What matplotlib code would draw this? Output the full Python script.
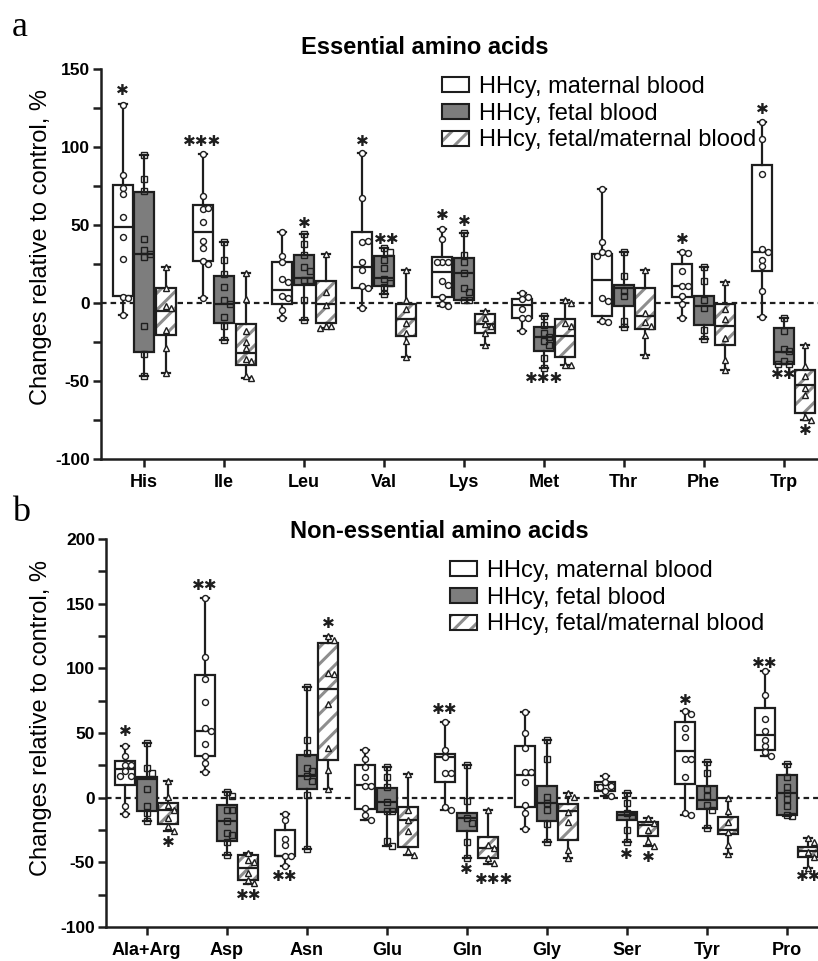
import matplotlib
matplotlib.use('Agg')
import matplotlib.pyplot as plt
from matplotlib.patches import Patch
from matplotlib.ticker import MultipleLocator
import numpy as np

plt.rcParams['font.family'] = ['Liberation Sans', 'DejaVu Sans']
plt.rcParams['hatch.linewidth'] = 2.2
plt.rcParams['axes.unicode_minus'] = False

group_labels = ['HHcy, maternal blood', 'HHcy, fetal blood', 'HHcy, fetal/maternal blood']

# ---- panel a: essential amino acids ----
# box rows: [min, q1, median, q3, max]
ess_names = ['His', 'Ile', 'Leu', 'Val', 'Lys', 'Met', 'Thr', 'Phe', 'Trp']
ess_mat_box = [[-7.5, 4.3, 48.6, 75.6, 127.4], [3, 27.2, 45.6, 62.5, 95.7], [-9.6, -0.6, 8.6, 26.3, 45.6],
               [-3, 9.6, 23.1, 45.6, 96], [-1.7, 3.6, 19.9, 29.5, 47.7], [-18.2, -9.6, -1, 2.6, 6.4],
               [-12.2, -8.6, 14.6, 31.7, 73.2], [-9.6, 3.6, 11.1, 25, 32.5], [-9.2, 20.8, 32.8, 88.2, 116.3]]
ess_fet_box = [[-46.7, -31.5, 31.5, 71.3, 94.8], [-23.5, -12.8, -0.6, 17.6, 39], [-11.1, 11.8, 16, 31, 44],
               [6, 10.7, 16, 30.4, 35.3], [1.7, 1.7, 19.3, 28.9, 45], [-41.7, -31, -21.8, -15.6, -8.1],
               [-15.6, -1.7, 9.6, 11.3, 32.8], [-23.1, -14.3, -1.7, 4.3, 23.1], [-39, -39, -31.5, -16, -9.6]]
ess_rat_box = [[-45, -20.6, -5.4, 9.4, 23.1], [-48.2, -40, -32, -13.3, 19.3], [-16, -12.6, -0.6, 13.9, 31.7],
               [-34.3, -21.4, -10.3, -0.6, 21], [-26.8, -19.3, -13.5, -6.9, -5.4], [-39.6, -34.3, -21.4, -10, 1.7],
               [-33.6, -16.7, -8.6, 9.4, 21], [-43.2, -27.2, -14.5, -0.6, 13.3], [-75, -70.7, -52.5, -43.2, -26.8]]
ess_mat_pts = [[127, 82, 74, 70, 55, 42, 28.5, 4, 3, -7.5], [95.7, 68.5, 60.4, 61, 52, 39.6, 35, 27, 25.3, 3],
               [45.6, 30, 26, 15.6, 13.3, 4.3, 3, -4.3, -9.6], [96, 67, 39.2, 39.5, 26.3, 21, 10.7, 9.6, -3],
               [47.7, 41, 26.3, 26.3, 26.3, 13.9, 11.8, 3.6, -0.6, -1.7], [6.4, 3.6, 2.6, -3.9, -9.6, -9.6, -18.2],
               [73.2, 39, 33, 32, 30, 3.2, 1, -11.5, -12.2], [32.5, 32, 20.8, 10.7, 10.9, 4.7, -0.6, -9.6],
               [116.3, 105, 83, 34.9, 32.8, 27.8, 24, 7.5, -9.2]]
ess_fet_pts = [[94.8, 79.2, 72, 41.3, 33.8, 29.3, 31.5, -15, -32.5, -46.7], [39, 27.8, 18.6, 10, 2, -0.6, -9, -15, -23.5],
               [44, 38, 31, 23, 20.8, 14.8, 14.8, 2, -11.1], [35.3, 32.8, 27.8, 22.5, 15.6, 12.8, 10, 6],
               [45, 31, 26.3, 19.3, 9.6, 7, 1.7, 1.7], [-8.1, -14, -19.3, -21.8, -24.6, -27.2, -35.3, -41.7],
               [32.8, 17, 8, 4.3, -11.8, -15.6], [23.1, 13.9, 2, -3.2, -17, -23.1],
               [-9.6, -18.2, -29.5, -30.6, -37.5, -39, -39]]
ess_rat_pts = [[23, 9.4, -2, -3, -17, -29, -45], [19.3, 2.8, -18, -25, -29, -36, -37, -46.7, -48.2],
               [31.7, 7, -1, -14.5, -15, -16], [21, 1.7, -3.9, -12.8, -19.3, -24.2, -34.3],
               [-5.4, -9.6, -13.5, -15, -19.3, -26.8], [1.7, 0, -12.6, -15, -39.6, -39.6],
               [21, -6.4, -12.4, -15, -20.3, -33.6], [13.3, -3.9, -10.3, -22.5, -36.4, -43.2],
               [-26.8, -40.7, -47, -54.6, -58.9, -72.8, -75]]
# (category, group, y, number of stars, small x nudge)
ess_stars = [(0, 0, 136, 1, 0), (1, 0, 103.6, 3, 0), (2, 1, 50.7, 1, 0), (3, 0, 103.6, 1, 0),
             (3, 1, 40.6, 2, 0.04), (4, 0, 56.3, 1, 0), (4, 1, 52.4, 1, 0), (5, 1, -48.2, 3, 0),
             (7, 0, 40.6, 1, 0), (8, 0, 124, 1, 0), (8, 1, -45.6, 2, 0), (8, 2, -81.8, 1, 0)]

# ---- panel b: non-essential amino acids ----
non_names = ['Ala+Arg', 'Asp', 'Asn', 'Glu', 'Gln', 'Gly', 'Ser', 'Tyr', 'Pro']
non_mat_box = [[-12.4, 9.5, 22.2, 28.3, 39.7], [19.8, 32, 51.8, 95, 154], [-53.1, -45.4, -44.8, -25.3, -12.4],
               [-17, -8.8, 9.5, 25, 37.1], [-9.5, 12.4, 31.7, 33.5, 58.2], [-24.5, -7.5, 17.5, 40.2, 66],
               [1, 4.9, 9.5, 12.1, 16.5], [-13.1, 10.6, 35.8, 58.5, 67.3], [32, 37.1, 48.2, 69.3, 98.2]]
non_fet_box = [[-17.8, -10, 14.4, 16, 42.3], [-44, -33.8, -18.3, -5.9, 4.1], [-39.7, 7, 16.5, 33.2, 85.3],
               [-37.1, -11.3, -3.6, 7.5, 23.4], [-46.9, -25.8, -16, -11.6, 25.3], [-34.3, -18.3, -4.1, 8.8, 44.3],
               [-34.5, -17, -13.1, -10.8, 3.9], [-23.5, -8.5, -1.5, 8.8, 27.3], [-14.4, -13.1, 3.6, 17.8, 26.3]]
non_rat_box = [[-26, -20.1, -9.8, -4.1, 12.6], [-66.5, -63.4, -54.4, -44, -42.8], [6.7, 28.9, 84, 119.6, 125.2],
               [-44, -38.1, -17, -7.2, 18.6], [-51.5, -46.9, -39.2, -30.1, -9.5], [-46.4, -32.5, -10, -4.9, 3.9],
               [-37.1, -29.4, -20.9, -19.1, -15.7], [-43.3, -28.1, -24.7, -14.9, -0.5], [-54.4, -46.1, -41.2, -38.4, -31.4]]
non_mat_pts = [[39.7, 32, 25.5, 25.5, 20.9, 16.5, 16.5, -6.2, -12.4], [154, 108.5, 92, 73.7, 53.9, 51.8, 41.5, 32, 26.8, 19.8],
               [-12.4, -17, -32, -36.9, -44.8, -45.4, -53.1], [37.1, 29.9, 23.7, 15.7, 8.8, 8.8, -8.2, -13.7, -17],
               [58.2, 36.8, 31.7, 19.3, 19.3, -7, -9.5], [66, 49.7, 38.1, 19.6, 19.6, 12.1, -5.4, -11.9, -24.5],
               [16.5, 12, 9, 8, 4.9, 1], [67.3, 64.7, 53.9, 47.2, 29.9, 29.9, 16, -11.9, -13.1],
               [98.2, 79.6, 61.1, 51.3, 44.8, 40.2, 35.3, 32]]
non_fet_pts = [[42.3, 22.7, 19, 6.7, -6.7, -11.9, -17.8], [4.1, 1, -9.3, -9.3, -18.3, -27.3, -28.5, -34.5, -44],
               [85.3, 44.8, 34.5, 23, 20.4, 16.5, 13.1, 2.3, -39.7], [23.4, 15.7, 8, -3.6, -10, -10.5, -33.8, -37.1],
               [25.3, -2.3, -16, -19.8, -34, -46.9], [44.3, 29.9, 0.8, -4.1, -9.3, -20.4, -34.3],
               [3.9, -4.4, -12, -14, -25.3, -34.5], [27.3, 19.1, 6.7, 1.5, -5.4, -9.5, -23.5],
               [26.3, 16, 8.5, 3.6, -1.3, -6.2, -13.1, -14.4]]
non_rat_pts = [[12.6, 0.5, -5.4, -9.3, -15.7, -22.2, -26], [-42.8, -48.4, -50, -58, -63.4, -66],
               [125.2, 122, 96.4, 96, 72.4, 38.4, 21.6, 6.7], [18.6, -9.3, -17, -26, -41.5, -44],
               [-9.5, -36.6, -39.2, -46.9, -50.5], [3.9, 0.8, -10.8, -19.1, -40.2, -46.4],
               [-15.7, -19.6, -24.7, -33.8, -37.1], [-0.5, -10.6, -18.6, -26.8, -36.3, -43.3],
               [-31.4, -34, -41.7, -46.1, -54.4]]
non_stars = [(0, 0, 50.8, 1, 0), (0, 2, -34.5, 1, 0), (1, 0, 164, 2, 0), (1, 2, -75.5, 2, 0),
             (2, 0, -60.8, 2, 0), (2, 2, 134.5, 1, 0), (4, 0, 68.3, 2, 0), (4, 1, -55.4, 1, 0),
             (4, 2, -62.9, 3, 0.07), (6, 1, -44, 1, 0), (6, 2, -45.9, 1, 0), (7, 0, 75, 1, 0),
             (8, 0, 104, 2, 0), (8, 2, -61, 2, 0)]

EDGE = '#1e1e1e'
FETAL = '#7d7d7d'
HATCH = '#8e8e8e'
offsets = [-0.27, 0.0, 0.27]
markers = [('o', 'white'), ('s', 'none'), ('^', 'white')]


def swarm(vals, dx, dy):
    placed = []
    xs = []
    for v in vals:
        k = 0
        while True:
            cands = [0.0] if k == 0 else [k * dx, -k * dx]
            ok = None
            for c in cands:
                if all(abs(py - v) >= dy or abs(px - c) >= dx * 0.99 for px, py in placed):
                    ok = c
                    break
            if ok is not None:
                break
            k += 1
        placed.append((ok, v))
        xs.append(ok)
    return np.array(xs)


def to_stats(rows):
    return [dict(whislo=r[0], q1=r[1], med=r[2], q3=r[3], whishi=r[4], fliers=[]) for r in rows]


def draw_panel(ax, names, boxes, points, stars, ylim, major, dy):
    lw = 1.6
    line = dict(color=EDGE, linewidth=lw)
    for g in range(3):
        pos = np.arange(len(names)) + offsets[g]
        st = to_stats(boxes[g])
        common = dict(positions=pos, widths=0.25, capwidths=0.1, showfliers=False,
                      patch_artist=True, manage_ticks=False)
        if g == 2:
            ax.bxp(st, boxprops=dict(facecolor='white', edgecolor=HATCH, hatch='//', linewidth=0),
                   whiskerprops=dict(linewidth=0), medianprops=dict(linewidth=0), showcaps=False,
                   zorder=2, **common)
            face = 'none'
        else:
            face = 'white' if g == 0 else FETAL
        ax.bxp(st, boxprops=dict(facecolor=face, edgecolor=EDGE, linewidth=lw),
               whiskerprops=line, capprops=line, medianprops=line, zorder=3, **common)
        m, mf = markers[g]
        for i, vals in enumerate(points[g]):
            xs = swarm(vals, 0.07, dy)
            ax.plot(pos[i] + xs, vals, linestyle='none', marker=m, markersize=4.3,
                    markerfacecolor=mf, markeredgecolor=EDGE, markeredgewidth=1.0, zorder=4)
    for i, g, y, n, nudge in stars:
        ax.text(i + offsets[g] + nudge, y, '\u2731' * n, ha='center', va='center', fontsize=11,
                family='DejaVu Sans', fontweight='bold', color=EDGE, zorder=5)
    ax.axhline(0, color=EDGE, lw=1.6, ls=(0, (2.5, 1.8)), zorder=1)
    ax.set_ylim(*ylim)
    ax.yaxis.set_major_locator(MultipleLocator(major))
    ax.yaxis.set_minor_locator(MultipleLocator(25))
    ax.set_xticks(np.arange(len(names)))
    ax.set_xticklabels(names, fontsize=13, fontweight='bold')
    for lab in ax.get_yticklabels():
        lab.set_fontweight('bold')
    ax.tick_params(axis='y', which='both', length=6, width=1.8, labelsize=12.5, pad=2, color=EDGE)
    ax.tick_params(axis='x', length=6, width=1.8, pad=5, color=EDGE)
    for s in ['top', 'right']:
        ax.spines[s].set_visible(False)
    for s in ['left', 'bottom']:
        ax.spines[s].set_linewidth(1.8)
        ax.spines[s].set_color(EDGE)
    ax.set_ylabel('Changes relative to control, %', fontsize=17)
    handles = [Patch(facecolor='white', edgecolor=EDGE, linewidth=1.5),
               Patch(facecolor=FETAL, edgecolor=EDGE, linewidth=1.5),
               (Patch(facecolor='white', edgecolor=HATCH, hatch='//', linewidth=0),
                Patch(facecolor='none', edgecolor=EDGE, linewidth=1.5))]
    return handles


fig = plt.figure(figsize=(8.18, 9.61), dpi=100)
W, H = 818.0, 961.0

ax1 = fig.add_axes([101 / W, 1 - 459 / H, 717 / W, 390 / H])
h = draw_panel(ax1, ess_names, [ess_mat_box, ess_fet_box, ess_rat_box],
               [ess_mat_pts, ess_fet_pts, ess_rat_pts], ess_stars, (-100, 150), 50, 3.6)
ax1.set_xlim(-0.54, 8.43)
ax1.yaxis.set_label_coords(52 / W, 1 - 247 / H, transform=fig.transFigure)
ax1.legend(h, group_labels, loc='upper left', bbox_to_anchor=(442 / W, 1 - 76 / H),
           bbox_transform=fig.transFigure, frameon=False, fontsize=17, borderpad=0, borderaxespad=0,
           handlelength=1.15, handleheight=0.6, handletextpad=0.4, labelspacing=0.2)

ax2 = fig.add_axes([106 / W, 1 - 927 / H, 712 / W, 388 / H])
h = draw_panel(ax2, non_names, [non_mat_box, non_fet_box, non_rat_box],
               [non_mat_pts, non_fet_pts, non_rat_pts], non_stars, (-100, 200), 50, 4.4)
ax2.set_xlim(-0.509, 8.39)
ax2.yaxis.set_label_coords(52 / W, 1 - 718 / H, transform=fig.transFigure)
ax2.legend(h, group_labels, loc='upper left', bbox_to_anchor=(450 / W, 1 - 560 / H),
           bbox_transform=fig.transFigure, frameon=False, fontsize=17, borderpad=0, borderaxespad=0,
           handlelength=1.15, handleheight=0.6, handletextpad=0.4, labelspacing=0.2)

fig.text(425 / W, 1 - 47 / H, 'Essential amino acids', ha='center', va='center', fontsize=17, fontweight='bold')
fig.text(439 / W, 1 - 532 / H, 'Non-essential amino acids', ha='center', va='center', fontsize=17, fontweight='bold')
fig.text(12 / W, 1 - 36 / H, 'a', ha='left', va='baseline', fontsize=26, family='Liberation Serif')
fig.text(12 / W, 1 - 521 / H, 'b', ha='left', va='baseline', fontsize=26, family='Liberation Serif')

fig.savefig('out.png', dpi=100)
